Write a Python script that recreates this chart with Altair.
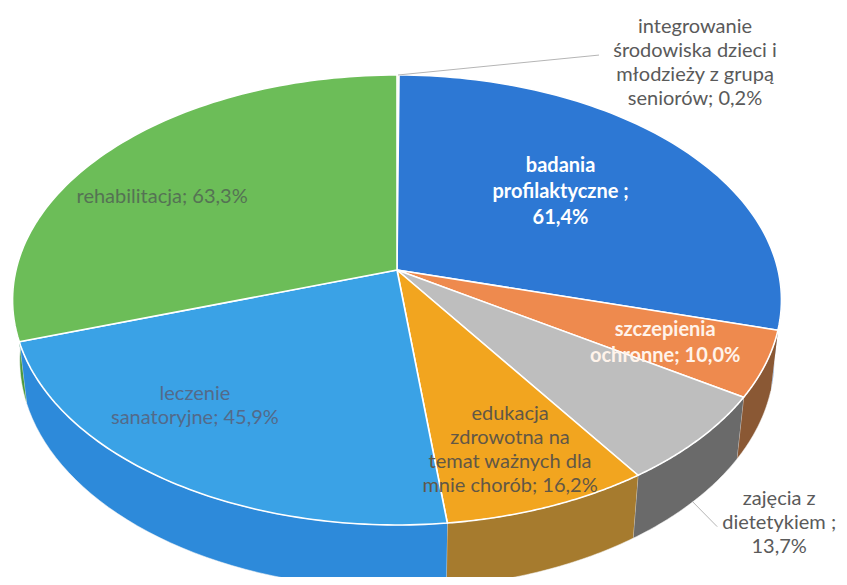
import altair as alt
import pandas as pd

# ---------------- data ----------------
categories = [
    "integrowanie środowiska dzieci i młodzieży z grupą seniorów",
    "badania profilaktyczne",
    "szczepienia ochronne",
    "zajęcia z dietetykiem",
    "edukacja zdrowotna na temat ważnych dla mnie chorób",
    "leczenie sanatoryjne",
    "rehabilitacja",
]
values = [0.2, 61.4, 10.0, 13.7, 16.2, 45.9, 63.3]
label_lines = [
    ["integrowanie", "środowiska dzieci i", "młodzieży z grupą", "seniorów; 0,2%"],
    ["badania", "profilaktyczne ;", "61,4%"],
    ["szczepienia", "ochronne; 10,0%"],
    ["zajęcia z", "dietetykiem ;", "13,7%"],
    ["edukacja", "zdrowotna na", "temat ważnych dla", "mnie chorób; 16,2%"],
    ["leczenie", "sanatoryjne; 45,9%"],
    ["rehabilitacja; 63,3%"],
]

# ---------------- styles / layout ----------------
top_colors = ["#F2B830", "#2D78D4", "#EE8A4E", "#BEBEBE", "#F2A51F", "#3AA2E6", "#6CBD58"]
side_colors = ["#B88A20", "#2562B4", "#8A5834", "#6A6A6A", "#A67B2E", "#2D8ADA", "#4E9A3E"]
label_colors = ["#5A5A5A", "#FFFFFF", "#FFF3EA", "#5A5A5A", "#625746", "#536A8A", "#557254"]
label_weights = ["normal", "bold", "bold", "normal", "normal", "normal", "normal"]
label_shift_deg = [39.7, -2.1, 1.4, 4.7, 0.4, 8.1, -7.7]
label_radius = [1.394, 0.582, 0.745, 1.32, 0.782, 0.751, 0.732]
leader_dx = [-96, None, None, -62, None, None, None]
leader_dy = [-8, None, None, 4, None, None, None]
FONT = "Lato"
FS = 20
LH_N, LH_B = 24, 26

# perspective projection of a tilted disc
F, S, C, D, H = 2328, 0.58, 0.814, 6.11, 0.197
CX, CY = 389, 262
W, HT = 831, 569
N = 80   # steps along arc for top faces
M = 40   # steps along arc for side faces

base = pd.DataFrame({"cat": categories, "value": values, "order": list(range(len(values)))})


def cross(df, n):
    steps = pd.DataFrame({"k": list(range(n))})
    return df.merge(steps, how="cross")


def angle_transforms(ch):
    return (
        ch.transform_window(cum="sum(value)", groupby=["k"], sort=[alt.SortField("order")],
                            frame=[None, 0])
        .transform_joinaggregate(total="sum(value)", groupby=["k"])
        .transform_calculate(
            a0="2*PI*(datum.cum - datum.value)/datum.total",
            a1="2*PI*datum.cum/datum.total",
        )
    )


def project(ch):
    return ch.transform_calculate(
        depth=f"{D} - datum.Y*{C} - datum.Z*{S}"
    ).transform_calculate(
        px=f"{CX} + {F}*datum.X/datum.depth",
        py=f"{CY} + {F}*(datum.Y*{S} - datum.Z*{C})/datum.depth",
    )


xs = alt.Scale(domain=[0, W], nice=False, zero=False)
ys = alt.Scale(domain=[0, HT], nice=False, zero=False, reverse=True)
xenc = alt.X("px:Q", scale=xs, axis=None)
yenc = alt.Y("py:Q", scale=ys, axis=None)

# ---------------- side walls ----------------
side = alt.Chart(cross(base, 2 * M + 2))
side = angle_transforms(side).transform_calculate(
    s0="max(datum.a0, PI/2)", s1="min(datum.a1, 3*PI/2)"
).transform_filter("datum.s1 > datum.s0").transform_calculate(
    t=f"datum.k <= {M} ? datum.k/{M} : ({2*M+1} - datum.k)/{M}",
    Z=f"datum.k <= {M} ? 0 : -{H}",
).transform_calculate(
    th="datum.s0 + datum.t*(datum.s1 - datum.s0)"
).transform_calculate(
    X="sin(datum.th)", Y="-cos(datum.th)"
)
side = project(side).mark_line(strokeWidth=1, strokeOpacity=0.55, interpolate="linear").encode(
    x=xenc, y=yenc,
    fill=alt.Fill("cat:N", scale=alt.Scale(domain=categories, range=side_colors), legend=None),
    stroke=alt.value("#f4f4f4"),
    detail="cat:N",
    order=alt.Order("k:Q"),
)

# ---------------- top faces ----------------
top = alt.Chart(cross(base, N + 3))
top = angle_transforms(top).transform_calculate(
    t=f"clamp((datum.k - 1)/{N}, 0, 1)",
    r=f"(datum.k == 0 || datum.k == {N+2}) ? 0 : 1",
    Z="0",
).transform_calculate(
    th="datum.a0 + datum.t*(datum.a1 - datum.a0)"
).transform_calculate(
    X="datum.r*sin(datum.th)", Y="-datum.r*cos(datum.th)"
)
top = project(top).mark_line(strokeWidth=1.6, strokeJoin="round", interpolate="linear").encode(
    x=xenc, y=yenc,
    fill=alt.Fill("cat:N", scale=alt.Scale(domain=categories, range=top_colors), legend=None),
    stroke=alt.value("white"),
    detail="cat:N",
    order=alt.Order("k:Q"),
)

# ---------------- labels ----------------
lab = base.copy()
lab["text"] = ["\n".join(l) for l in label_lines]
lab["nlines"] = [len(l) for l in label_lines]
lab["lcolor"] = label_colors
lab["weight"] = label_weights
lab["shift"] = label_shift_deg
lab["rad"] = label_radius
lab["k"] = 0
lab["ldx"] = leader_dx
lab["ldy"] = leader_dy

labels = alt.Chart(lab)
labels = angle_transforms(labels).transform_calculate(
    th="(datum.a0 + datum.a1)/2 + datum.shift*PI/180", Z="0"
).transform_calculate(
    X="datum.rad*sin(datum.th)", Y="-datum.rad*cos(datum.th)"
)
labels = project(labels)

ytext = alt.Y("ty:Q", scale=ys, axis=None)

text_normal = labels.transform_filter("datum.weight == 'normal'").transform_calculate(
    ty=f"datum.py - (datum.nlines - 1)*{LH_N}/2"
).mark_text(
    font=FONT, fontSize=FS, lineHeight=LH_N, align="center", baseline="middle", lineBreak="\n"
).encode(x=xenc, y=ytext, text="text:N", color=alt.Color("lcolor:N", scale=None))

text_bold = labels.transform_filter("datum.weight == 'bold'").transform_calculate(
    ty=f"datum.py - (datum.nlines - 1)*{LH_B}/2"
).mark_text(
    font=FONT, fontSize=FS, fontWeight="bold", lineHeight=LH_B, align="center", baseline="middle",
    lineBreak="\n"
).encode(x=xenc, y=ytext, text="text:N", color=alt.Color("lcolor:N", scale=None))

# leader lines: from slice edge (top rim or bottom of side wall) to label
lead = alt.Chart(lab)
lead = angle_transforms(lead).transform_filter("isValid(datum.ldx)").transform_calculate(
    th="(datum.a0 + datum.a1)/2",
    Z=f"datum.order == 0 ? 0 : -{H}",
).transform_calculate(
    X="sin(datum.th)", Y="-cos(datum.th)"
)
lead = project(lead).transform_calculate(
    qX="datum.rad*sin(datum.th + datum.shift*PI/180)",
    qY="-datum.rad*cos(datum.th + datum.shift*PI/180)",
).transform_calculate(
    qdepth=f"{D} - datum.qY*{C}"
).transform_calculate(
    qx=f"{CX} + {F}*datum.qX/datum.qdepth + datum.ldx",
    qy=f"{CY} + {F}*datum.qY*{S}/datum.qdepth + datum.ldy",
).mark_rule(color="#b5b5b5", strokeWidth=1).encode(
    x=xenc, y=yenc, x2="qx:Q", y2="qy:Q"
)

chart = alt.layer(side, top, lead, text_normal, text_bold).resolve_scale(
    fill="independent"
).properties(
    width=W, height=HT, padding=0, autosize="none", background="white"
).configure_view(stroke=None)

chart.save("out.html", embed_options={"renderer": "svg", "actions": False})
